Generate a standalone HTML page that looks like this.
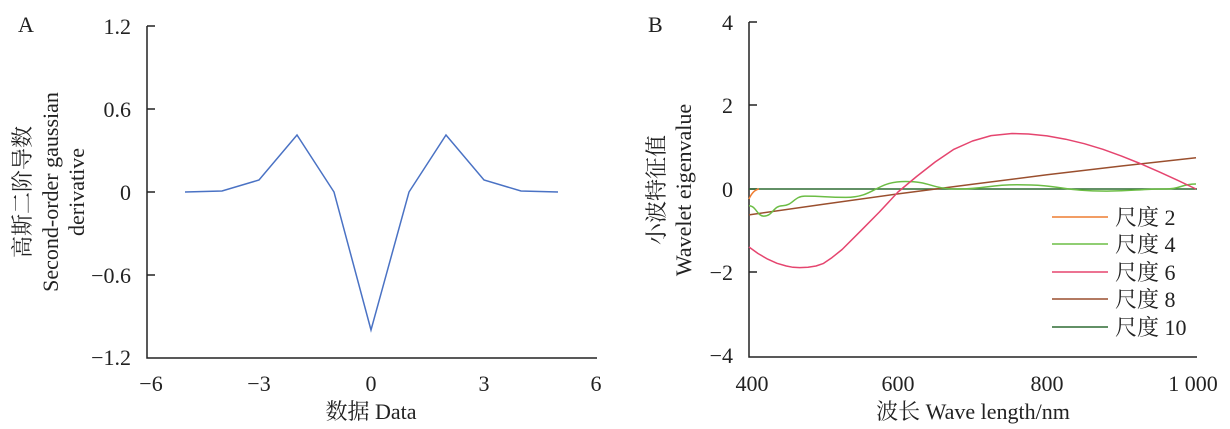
<!DOCTYPE html><html><head><meta charset="utf-8"><style>body{margin:0;background:#fff}svg{display:block;font-family:"Liberation Serif","Noto Serif CJK SC","Noto Sans CJK SC",serif;}</style></head><body>
<svg width="1230" height="429" xmlns="http://www.w3.org/2000/svg">
<g font-size="22" fill="#222">
<text x="18" y="32">A</text><text x="648" y="32">B</text>
<g stroke="#222" stroke-width="1.5" fill="none"><path d="M147 26V358H597"/>
<path d="M147 26h8M147 109h8M147 192h8M147 275h8"/>
</g>
<g text-anchor="end"><text x="131" y="34">1.2</text><text x="131" y="117">0.6</text><text x="131" y="200">0</text><text x="131" y="283">−0.6</text><text x="131" y="365">−1.2</text></g>
<g text-anchor="middle"><text x="151" y="391">−6</text><text x="259" y="391">−3</text><text x="371" y="391">0</text><text x="484" y="391">3</text><text x="596" y="391">6</text>
<text x="371" y="419">数据 Data</text><text x="973" y="419">波长 Wave length/nm</text></g>
<g text-anchor="middle"><text transform="translate(30,192) rotate(-90)">高斯二阶导数</text><text transform="translate(58,192) rotate(-90)">Second-order gaussian</text><text transform="translate(84,192) rotate(-90)">derivative</text>
<text transform="translate(664,190) rotate(-90)">小波特征值</text><text transform="translate(691,190) rotate(-90)">Wavelet eigenvalue</text></g>
<polyline fill="none" stroke="#4a72c4" stroke-width="1.5" points="185,192 222,191 259,180 297,135 334,192 371,330 409,192 446,135 484,180 521,191 558,192"/>
<g stroke="#222" stroke-width="1.5" fill="none"><path d="M749 22V357H1197"/>
<path d="M749 22h8M749 105h8M749 189h8M749 272h8"/></g>
<g fill="none" stroke-width="1.5" stroke-linejoin="round">
<line x1="749" y1="189" x2="1197" y2="189" stroke="#2e6b34"/>
<polyline stroke="#9a4f2e" points="749,214.9 823.5,204.2 898,193.9 972.5,184.2 1047,174.8 1121.5,166 1196,157.7"/>
<path stroke="#6cbd45" d="M749 205.7 C756 205.7,757 216.1,763.9 216.1 C773 216.1,773 205.7,782.5 205.7 C793 205.7,794 196.1,804.9 196.1 C825 196.1,825 197.4,845.9 197.4 C875 197.4,875 181.5,905.5 181.5 C931 181.5,931 189,957.6 189 C987 189,987 184.8,1017.2 184.8 C1062 184.8,1062 191.1,1106.6 191.1 C1136 191.1,1136 189,1166.2 189 C1181 189,1181 184,1196 184"/>
<polyline stroke="#e5456f" points="749,247 758,253.5 767.6,259.1 777,263.3 786.3,266 793,267.3 799.7,267.6 808,267.3 816,266 823.5,263.4 832,257.6 842.1,249.5 860.8,230.8 879.4,212 898,192 916.6,176.5 935.3,161.9 953.9,149.3 972.5,141 991.1,135.6 1012,133.5 1028.4,134 1047,135.9 1065.6,139.2 1084.3,143.7 1102.9,149.3 1121.5,156.1 1140.1,163.5 1158.8,171.7 1177.4,180.2 1196,189"/>
<path stroke="#ee7d31" d="M749 199 Q753 190 759 189"/>
</g>
<g text-anchor="end"><text x="733" y="30">4</text><text x="733" y="113">2</text><text x="733" y="197">0</text><text x="733" y="280">−2</text><text x="733" y="363">−4</text></g>
<g text-anchor="middle"><text x="752" y="391">400</text><text x="898" y="391">600</text><text x="1047" y="391">800</text><text x="1193" y="391">1 000</text></g>
<g stroke-width="1.5"><line x1="1052" y1="217" x2="1108" y2="217" stroke="#ee7d31"/><line x1="1052" y1="244" x2="1108" y2="244" stroke="#6cbd45"/><line x1="1052" y1="272" x2="1108" y2="272" stroke="#e5456f"/><line x1="1052" y1="299" x2="1108" y2="299" stroke="#9a4f2e"/><line x1="1052" y1="327" x2="1108" y2="327" stroke="#2e6b34"/></g>
<g><text x="1115" y="225">尺度 2</text><text x="1115" y="252">尺度 4</text><text x="1115" y="280">尺度 6</text><text x="1115" y="307">尺度 8</text><text x="1115" y="335">尺度 10</text></g>
</g>
</svg></body></html>
